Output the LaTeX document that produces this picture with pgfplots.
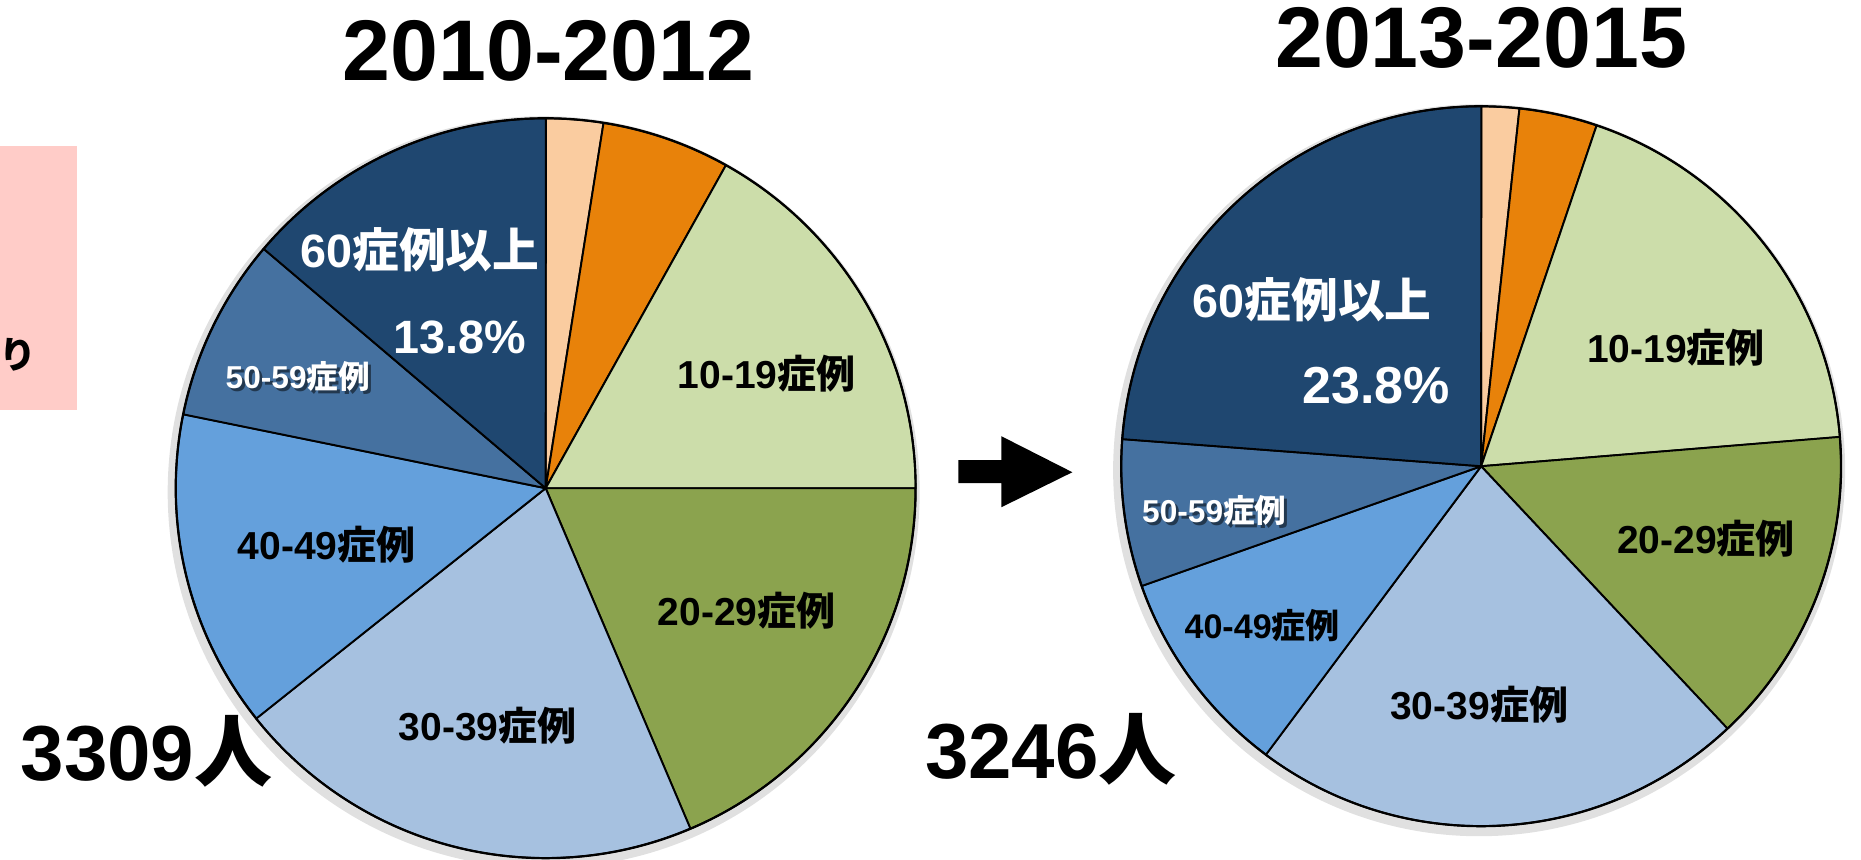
\documentclass[border=0pt]{standalone}
\usepackage{pgfplots}
\pgfplotsset{compat=1.18}
\usepackage{pgfplotstable}
\usepackage{fontspec}
\setmainfont{Liberation Sans}
\newfontfamily\jp{Noto Sans CJK JP}
\newcommand\J[1]{{\jp #1}}

\definecolor{cPeach}{RGB}{250,204,160}
\definecolor{cOrange}{RGB}{232,130,10}
\definecolor{cLgreen}{RGB}{204,221,170}
\definecolor{cOlive}{RGB}{139,163,78}
\definecolor{cLblue}{RGB}{166,193,224}
\definecolor{cMblue}{RGB}{100,160,220}
\definecolor{cSteel}{RGB}{69,113,160}
\definecolor{cNavy}{RGB}{31,71,112}
\definecolor{cPink}{RGB}{255,204,200}

% 2010-2012 (percent of 3309)
\pgfplotstableread{
pct color
2.5 cPeach
5.6 cOrange
16.9 cLgreen
18.6 cOlive
20.7 cLblue
13.9 cMblue
8.0 cSteel
13.8 cNavy
}\pieA
% 2013-2015 (percent of 3246)
\pgfplotstableread{
pct color
1.7 cPeach
3.5 cOrange
18.5 cLgreen
14.3 cOlive
22.2 cLblue
9.4 cMblue
6.6 cSteel
23.8 cNavy
}\pieB

\newcommand\drawpie[4]{% table, cx, cy, r (px)
  \pgfplotstablegetrowsof{#1}%
  \pgfmathtruncatemacro\nrows{\pgfplotsretval-1}%
  \def\cum{0}%
  \pgfmathsetmacro\rr{#4/100}%
  \edef\cmd{\noexpand\fill[black,opacity=0.12] (axis cs:#2-2,#3-4) circle[radius=\rr cm+0.06cm];}\cmd
  \pgfplotsforeachungrouped \i in {0,...,\nrows}{%
    \pgfplotstablegetelem{\i}{pct}\of{#1}\let\pv\pgfplotsretval
    \pgfplotstablegetelem{\i}{color}\of{#1}\let\pc\pgfplotsretval
    \pgfmathsetmacro\sa{90-3.6*\cum}%
    \pgfmathsetmacro\ea{90-3.6*(\cum+\pv)}%
    \pgfmathsetmacro\sx{#2+#4*cos(\sa)}%
    \pgfmathsetmacro\sy{#3+#4*sin(\sa)}%
    \edef\cmd{\noexpand\filldraw[fill=\pc,draw=black,line width=0.55pt,line join=round] (axis cs:#2,#3) -- (axis cs:\sx,\sy) arc[start angle=\sa,end angle=\ea,radius=\rr cm] -- cycle;}%
    \cmd
    \pgfmathsetmacro\cum{\cum+\pv}%
  }%
  \edef\cmd{\noexpand\draw[black,line width=0.6pt] (axis cs:#2,#3) circle[radius=\rr cm];}\cmd
}

\begin{document}
\begin{tikzpicture}
\useasboundingbox (0,0) rectangle (18.61,8.59);
\begin{axis}[x=0.01cm, y=0.01cm, xmin=0, xmax=1861, ymin=0, ymax=859,
  hide axis, clip=false, at={(0,0)}, anchor=origin]
  % pink box at left
  \fill[cPink] (axis cs:0,449) rectangle (axis cs:77,713);
  \node[font=\jp\fontsize{10.5pt}{12pt}\selectfont\bfseries, inner sep=0] at (axis cs:18,505) {り};

  \drawpie{\pieA}{546}{371}{370}
  \drawpie{\pieB}{1482}{393}{360}

  % titles
  \node[font=\fontsize{24.5pt}{28pt}\selectfont\bfseries, anchor=base, inner sep=0] at (axis cs:549,779) {2010-2012};
  \node[font=\fontsize{24.5pt}{28pt}\selectfont\bfseries, anchor=base, inner sep=0] at (axis cs:1482,792) {2013-2015};
  \node[font=\fontsize{22.2pt}{26pt}\selectfont\bfseries, anchor=base west, inner sep=0] at (axis cs:20,79) {3309\J{人}};
  \node[font=\fontsize{22.2pt}{26pt}\selectfont\bfseries, anchor=base west, inner sep=0] at (axis cs:925,81) {3246\J{人}};

  % arrow
  \fill[black] (axis cs:959,399) -- (axis cs:1002,399) -- (axis cs:1002,423) -- (axis cs:1073,387) -- (axis cs:1002,352) -- (axis cs:1002,376) -- (axis cs:959,376) -- cycle;

  % labels pie 1
  \node[font=\fontsize{13.3pt}{15pt}\selectfont\bfseries, text=white, inner sep=0] at (axis cs:420,610) {60\J{症例以上}};
  \node[font=\fontsize{13.3pt}{15pt}\selectfont\bfseries, text=white, inner sep=0] at (axis cs:460,522) {13.8\%};
  \node[font=\fontsize{9pt}{11pt}\selectfont\bfseries, text=black, opacity=0.5, inner sep=0] at (axis cs:301,480) {50-59\J{症例}};
  \node[font=\fontsize{9pt}{11pt}\selectfont\bfseries, text=white, inner sep=0] at (axis cs:298,483) {50-59\J{症例}};
  \node[font=\fontsize{11.1pt}{13pt}\selectfont\bfseries, inner sep=0] at (axis cs:767,486) {10-19\J{症例}};
  \node[font=\fontsize{11.1pt}{13pt}\selectfont\bfseries, inner sep=0] at (axis cs:327,314) {40-49\J{症例}};
  \node[font=\fontsize{11.1pt}{13pt}\selectfont\bfseries, inner sep=0] at (axis cs:747,248) {20-29\J{症例}};
  \node[font=\fontsize{11.1pt}{13pt}\selectfont\bfseries, inner sep=0] at (axis cs:488,133) {30-39\J{症例}};

  % labels pie 2
  \node[font=\fontsize{13.3pt}{15pt}\selectfont\bfseries, text=white, inner sep=0] at (axis cs:1313,560) {60\J{症例以上}};
  \node[font=\fontsize{14.8pt}{17pt}\selectfont\bfseries, text=white, inner sep=0] at (axis cs:1377,474) {23.8\%};
  \node[font=\fontsize{11.1pt}{13pt}\selectfont\bfseries, inner sep=0] at (axis cs:1677,512) {10-19\J{症例}};
  \node[font=\fontsize{11.1pt}{13pt}\selectfont\bfseries, inner sep=0] at (axis cs:1707,320) {20-29\J{症例}};
  \node[font=\fontsize{11.1pt}{13pt}\selectfont\bfseries, inner sep=0] at (axis cs:1480,154) {30-39\J{症例}};
  \node[font=\fontsize{9.7pt}{11pt}\selectfont\bfseries, inner sep=0] at (axis cs:1263,234) {40-49\J{症例}};
  \node[font=\fontsize{9pt}{11pt}\selectfont\bfseries, text=black, opacity=0.5, inner sep=0] at (axis cs:1218,346) {50-59\J{症例}};
  \node[font=\fontsize{9pt}{11pt}\selectfont\bfseries, text=white, inner sep=0] at (axis cs:1215,349) {50-59\J{症例}};
\end{axis}
\end{tikzpicture}
\end{document}
